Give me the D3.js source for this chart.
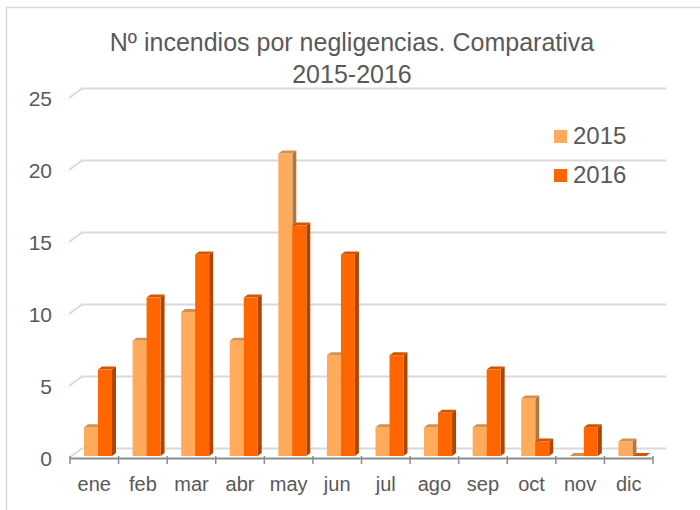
<!DOCTYPE html>
<html><head><meta charset="utf-8">
<script src="https://cdn.jsdelivr.net/npm/d3@7"></script>
<style>body{margin:0;background:#fff}svg{display:block}text{font-family:"Liberation Sans",Arial,sans-serif;fill:#595959}</style>
</head><body>
<svg id="c" width="700" height="510"></svg>
<script>
const categories = ["ene","feb","mar","abr","may","jun","jul","ago","sep","oct","nov","dic"];
const seriesNames = ["2015","2016"];
const values2015 = [2,8,10,8,21,7,2,2,2,4,0,1];
const values2016 = [6,11,14,11,16,14,7,3,6,1,2,0];
const yTicks = [0,5,10,15,20,25];
const titleLines = ["Nº incendios por negligencias. Comparativa","2015-2016"];

const colors = {
  "2015": {front:"#FFAB5B", side:"#AE7842", top:"#D2914F"},
  "2016": {front:"#FF6600", side:"#AC4600", top:"#D45400"}
};
const svg = d3.select("#c");
// outer frame
svg.append("rect").attr("x",6.5).attr("y",7.5).attr("width",720).attr("height",530)
  .attr("fill","none").attr("stroke","#d9d9d9").attr("stroke-width",1.5);

// title
svg.selectAll("text.title").data(titleLines).join("text").attr("class","title")
  .attr("x",352).attr("y",(d,i)=>51+i*32).attr("text-anchor","middle")
  .style("font-size","25px").text(d=>d);

const x0 = d3.scaleBand().domain(categories).range([70,653]);
const groupW = 28;
const xs = d3.scaleBand().domain(seriesNames).range([0,groupW]);
const y = d3.scaleLinear().domain([0,25]).range([458,98]);
const back = {dx:13, dy:-9.5};
const barShift = {dx:3.7, dy:-2};
const depth = {dx:4, dy:-3};

// gridlines (walls)
const g = svg.append("g");
yTicks.forEach(v=>{
  const yy = y(v);
  g.append("path").attr("d",`M69,${yy}L${69+back.dx},${yy+back.dy}L666,${yy+back.dy}`)
   .attr("fill","none").attr("stroke","#d9d9d9").attr("stroke-width",2);
});

// y labels
svg.selectAll("text.yl").data(yTicks).join("text").attr("class","yl")
  .attr("x",52).attr("y",d=>y(d)).attr("dy","0.36em").attr("text-anchor","end")
  .style("font-size","21px").text(d=>d);

// bars
const data = [];
categories.forEach((c,i)=>{
  data.push({c, s:"2015", v:values2015[i]});
  data.push({c, s:"2016", v:values2016[i]});
});
const bars = svg.append("g");
data.forEach(d=>{
  const x = x0(d.c) + (x0.bandwidth()-groupW)/2 + barShift.dx + xs(d.s);
  const w = xs.bandwidth();
  const yb = y(0) + barShift.dy;
  const yt = y(d.v) + barShift.dy;
  const col = colors[d.s];
  const bg = bars.append("g");
  bg.append("path").attr("d",`M${x+w},${yt}L${x+w+depth.dx},${yt+depth.dy}L${x+w+depth.dx},${yb+depth.dy}L${x+w},${yb}Z`).attr("fill",col.side);
  if (d.v>0) bg.append("rect").attr("x",x).attr("y",yt).attr("width",w).attr("height",yb-yt).attr("fill",col.front);
  bg.append("path").attr("d",`M${x},${yt}L${x+depth.dx},${yt+depth.dy}L${x+w+depth.dx},${yt+depth.dy}L${x+w},${yt}Z`).attr("fill",col.top);
});

// x axis
const ax = svg.append("g");
ax.append("line").attr("x1",70).attr("x2",653).attr("y1",y(0)+0.5).attr("y2",y(0)+0.5)
  .attr("stroke","#8c8c8c").attr("stroke-width",2);
const tickX = categories.map(c=>x0(c)).concat([x0.range()[1]]);
ax.selectAll("line.t").data(tickX).join("line").attr("class","t")
  .attr("x1",d=>d).attr("x2",d=>d).attr("y1",y(0)-2).attr("y2",y(0)+6)
  .attr("stroke","#8c8c8c").attr("stroke-width",1.5);
svg.selectAll("text.xl").data(categories).join("text").attr("class","xl")
  .attr("x",d=>x0(d)+x0.bandwidth()/2).attr("y",491).attr("text-anchor","middle")
  .style("font-size","20px").text(d=>d);

// legend
const lg = svg.append("g");
seriesNames.forEach((s,i)=>{
  lg.append("rect").attr("x",554).attr("y",130+i*39).attr("width",13).attr("height",13).attr("fill",colors[s].front);
  lg.append("text").attr("x",573).attr("y",144+i*39).style("font-size","24px").text(s);
});
</script>
</body></html>
